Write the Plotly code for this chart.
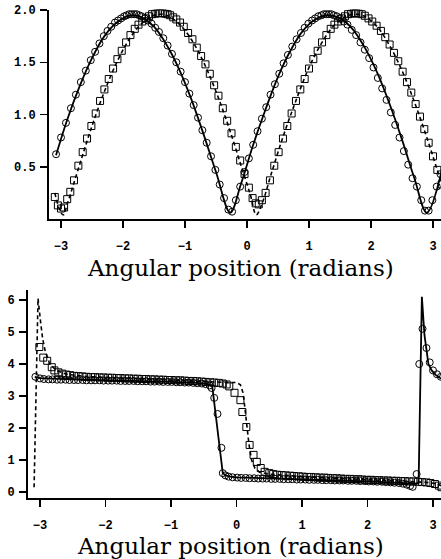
import plotly.graph_objects as go

# ---------------- top panel ----------------
top_circ_x = [-3.08, -3.00, -2.92, -2.84, -2.76, -2.68, -2.60, -2.52, -2.45, -2.38, -2.31, -2.25,
              -2.19, -2.13, -2.08, -2.03, -1.98, -1.94, -1.90, -1.86, -1.82, -1.78, -1.74, -1.70,
              -1.65, -1.60, -1.54, -1.48, -1.42, -1.35, -1.28, -1.21, -1.14, -1.07, -1.00, -0.93,
              -0.86, -0.79, -0.72, -0.65, -0.58, -0.51, -0.44, -0.37, -0.30, -0.24, -0.18, -0.11,
              -0.04, 0.03, 0.10, 0.17, 0.24, 0.31, 0.38, 0.45, 0.52, 0.59, 0.66, 0.73, 0.80, 0.87,
              0.93, 0.99, 1.05, 1.10, 1.15, 1.20, 1.24, 1.28, 1.32, 1.36, 1.40, 1.45, 1.50, 1.56,
              1.62, 1.69, 1.76, 1.83, 1.90, 1.97, 2.04, 2.11, 2.18, 2.25, 2.32, 2.39, 2.46, 2.53,
              2.60, 2.67, 2.74, 2.81, 2.87, 2.93, 2.99, 3.06, 3.12]
top_circ_y = [0.62, 0.78, 0.92, 1.06, 1.19, 1.31, 1.42, 1.52, 1.60, 1.68, 1.75, 1.80,
              1.84, 1.88, 1.90, 1.92, 1.94, 1.95, 1.96, 1.96, 1.96, 1.96, 1.95, 1.94,
              1.92, 1.90, 1.87, 1.83, 1.79, 1.73, 1.66, 1.58, 1.50, 1.41, 1.31, 1.20,
              1.09, 0.97, 0.85, 0.73, 0.60, 0.47, 0.33, 0.20, 0.09, 0.07, 0.18, 0.31,
              0.45, 0.58, 0.71, 0.84, 0.96, 1.07, 1.19, 1.29, 1.39, 1.49, 1.57, 1.65, 1.72, 1.78,
              1.83, 1.87, 1.90, 1.92, 1.94, 1.95, 1.96, 1.96, 1.96, 1.96, 1.95, 1.94, 1.92, 1.89,
              1.86, 1.81, 1.76, 1.69, 1.62, 1.54, 1.45, 1.35, 1.25, 1.14, 1.02, 0.90, 0.78, 0.65,
              0.52, 0.39, 0.31, 0.18, 0.08, 0.08, 0.18, 0.31, 0.43]

top_solid_x = [-3.08, -2.9, -2.7, -2.5, -2.3, -2.1, -1.9, -1.8, -1.7, -1.5, -1.3, -1.1, -0.9,
               -0.7, -0.5, -0.27, -0.1, 0.1, 0.3, 0.5, 0.7, 0.9, 1.1, 1.3, 1.5, 1.7, 1.9, 2.1,
               2.3, 2.5, 2.7, 2.9, 3.14]
top_solid_y = [0.61, 0.95, 1.27, 1.54, 1.75, 1.88, 1.946, 1.948, 1.93, 1.84, 1.67, 1.44, 1.15,
               0.81, 0.45, 0.06, 0.33, 0.71, 1.05, 1.36, 1.61, 1.80, 1.91, 1.95, 1.92, 1.82, 1.64,
               1.40, 1.10, 0.76, 0.39, 0.06, 0.46]

top_sq_x = [-3.10, -3.05, -3.00, -2.95, -2.90, -2.85, -2.79, -2.72, -2.65, -2.58, -2.51, -2.44,
            -2.37, -2.30, -2.23, -2.16, -2.09, -2.02, -1.95, -1.88, -1.81, -1.75, -1.69, -1.63,
            -1.58, -1.53, -1.48, -1.44, -1.40, -1.36, -1.32, -1.28, -1.24, -1.19, -1.14, -1.08,
            -1.02, -0.95, -0.88, -0.81, -0.74, -0.67, -0.60, -0.53, -0.46, -0.39, -0.32, -0.25,
            -0.18, -0.11, -0.04, 0.03, 0.09, 0.14, 0.19, 0.24, 0.30, 0.37, 0.44, 0.51, 0.58, 0.65,
            0.72, 0.79, 0.86, 0.93, 1.00, 1.07, 1.14, 1.21, 1.28, 1.35, 1.41, 1.47, 1.53, 1.58,
            1.63, 1.68, 1.72, 1.76, 1.80, 1.85, 1.90, 1.96, 2.02, 2.09, 2.16, 2.23, 2.30, 2.37,
            2.44, 2.51, 2.58, 2.65, 2.72, 2.79, 2.86, 2.93, 3.00, 3.07, 3.14]
top_sq_y = [0.21, 0.13, 0.10, 0.11, 0.19, 0.26, 0.37, 0.51, 0.64, 0.77, 0.89, 1.01,
            1.13, 1.24, 1.34, 1.44, 1.53, 1.61, 1.69, 1.76, 1.82, 1.86, 1.89, 1.92,
            1.94, 1.96, 1.965, 1.97, 1.97, 1.97, 1.965, 1.96, 1.95, 1.93, 1.91, 1.88,
            1.84, 1.78, 1.72, 1.64, 1.56, 1.48, 1.39, 1.28, 1.18, 1.06, 0.94, 0.82,
            0.69, 0.56, 0.43, 0.30, 0.20, 0.15, 0.14, 0.18, 0.25, 0.37, 0.51, 0.64, 0.77, 0.89,
            1.01, 1.13, 1.24, 1.34, 1.44, 1.53, 1.61, 1.69, 1.76, 1.82, 1.86, 1.89, 1.92, 1.94,
            1.96, 1.965, 1.97, 1.97, 1.966, 1.96, 1.945, 1.92, 1.89, 1.85, 1.80, 1.74, 1.67, 1.59,
            1.51, 1.41, 1.31, 1.21, 1.10, 0.98, 0.86, 0.73, 0.60, 0.47, 0.33]

top_dash_x = [-3.10, -3.0, -2.96, -2.9, -2.7, -2.5, -2.3, -2.1, -1.9, -1.7, -1.5, -1.4, -1.3,
              -1.1, -0.9, -0.7, -0.5, -0.3, -0.1, 0.05, 0.15, 0.25, 0.4, 0.6, 0.8, 1.0, 1.2,
              1.4, 1.6, 1.75, 1.9, 2.1, 2.3, 2.5, 2.7, 2.9, 3.1, 3.14]
top_dash_y = [0.25, 0.06, 0.04, 0.14, 0.52, 0.89, 1.22, 1.50, 1.72, 1.87, 1.95, 1.96, 1.95,
              1.87, 1.72, 1.50, 1.22, 0.89, 0.52, 0.24, 0.04, 0.16, 0.45, 0.82, 1.15, 1.45, 1.68,
              1.85, 1.94, 1.96, 1.94, 1.84, 1.66, 1.42, 1.12, 0.78, 0.41, 0.33]

# ---------------- bottom panel ----------------
bot_circ_x = [-3.07, -3.00, -2.94, -2.87, -2.81, -2.74, -2.68, -2.61, -2.55, -2.48, -2.42, -2.35,
              -2.29, -2.22, -2.16, -2.09, -2.03, -1.96, -1.90, -1.83, -1.77, -1.70, -1.64, -1.57,
              -1.51, -1.44, -1.38, -1.31, -1.25, -1.18, -1.12, -1.05, -0.99, -0.92, -0.86, -0.79,
              -0.73, -0.66, -0.60, -0.53, -0.47, -0.41,
              -0.38, -0.34, -0.29, -0.23, -0.21, -0.17,
              -0.12, -0.06, 0.01, 0.07, 0.14, 0.20, 0.27, 0.33, 0.40, 0.46, 0.53, 0.59, 0.66,
              0.72, 0.79, 0.85, 0.92, 0.98, 1.05, 1.11, 1.18, 1.24, 1.31, 1.37, 1.44, 1.50, 1.57,
              1.63, 1.70, 1.76, 1.83, 1.89, 1.96, 2.02, 2.09, 2.15, 2.22, 2.28, 2.35, 2.41, 2.48,
              2.54, 2.60, 2.65, 2.69,
              2.75, 2.79, 2.84, 2.90, 2.95, 3.00, 3.06, 3.12]
bot_circ_y = [3.60, 3.55, 3.53, 3.52, 3.52, 3.51, 3.51, 3.51, 3.50, 3.50, 3.50, 3.50,
              3.49, 3.49, 3.49, 3.49, 3.48, 3.48, 3.48, 3.48, 3.47, 3.47, 3.47, 3.47,
              3.46, 3.46, 3.46, 3.45, 3.45, 3.45, 3.44, 3.44, 3.44, 3.43, 3.43, 3.42,
              3.42, 3.41, 3.40, 3.39, 3.37, 3.33,
              3.25, 2.94, 2.44, 1.38, 0.59, 0.52,
              0.48, 0.46, 0.45, 0.44, 0.44, 0.43, 0.43, 0.42, 0.42, 0.42, 0.41, 0.41, 0.41,
              0.40, 0.40, 0.40, 0.39, 0.39, 0.39, 0.38, 0.38, 0.38, 0.37, 0.37, 0.37, 0.36, 0.36,
              0.36, 0.35, 0.35, 0.35, 0.34, 0.34, 0.33, 0.33, 0.32, 0.32, 0.31, 0.30, 0.29, 0.28,
              0.26, 0.23, 0.19, 0.16,
              0.56, 4.00, 5.10, 4.50, 4.05, 3.80, 3.68, 3.60]

bot_solid_x = [-3.08, -3.0, -2.5, -2.0, -1.5, -1.0, -0.6, -0.45, -0.37, -0.21, -0.17, -0.1, 0.0,
               0.5, 1.0, 1.5, 2.0, 2.5, 2.7, 2.78, 2.83, 2.87, 2.90, 2.93, 2.98, 3.04, 3.11, 3.14]
bot_solid_y = [3.60, 3.56, 3.52, 3.50, 3.47, 3.44, 3.41, 3.38, 3.30, 0.60, 0.52, 0.48, 0.46,
               0.42, 0.39, 0.36, 0.33, 0.29, 0.26, 0.28, 6.10, 4.90, 4.40, 4.00, 3.80, 3.66, 3.56,
               3.53]

bot_sq_x = [-3.01, -2.95, -2.89, -2.82, -2.78, -2.72, -2.66, -2.60, -2.54, -2.48, -2.41, -2.35,
            -2.29, -2.22, -2.16, -2.09, -2.03, -1.96, -1.90, -1.83, -1.77, -1.70, -1.64, -1.57,
            -1.51, -1.44, -1.38, -1.31, -1.25, -1.18, -1.12, -1.05, -0.99, -0.92, -0.86, -0.79,
            -0.73, -0.66, -0.60, -0.53, -0.47, -0.40, -0.34, -0.27, -0.21, -0.15,
            -0.11, -0.03, 0.06, 0.09, 0.15, 0.20, 0.26, 0.31, 0.37, 0.43, 0.50,
            0.56, 0.62, 0.69, 0.75, 0.82, 0.88, 0.95, 1.01, 1.08, 1.14, 1.21, 1.27, 1.34, 1.40,
            1.47, 1.53, 1.60, 1.66, 1.73, 1.79, 1.86, 1.92, 1.99, 2.05, 2.12, 2.18, 2.25, 2.31,
            2.38, 2.44, 2.51, 2.57, 2.64, 2.70, 2.77, 2.83, 2.90, 2.96, 3.03, 3.09, 3.13]
bot_sq_y = [4.53, 4.20, 4.10, 3.90, 3.80, 3.74, 3.70, 3.67, 3.65, 3.63, 3.62, 3.61,
            3.60, 3.59, 3.59, 3.58, 3.58, 3.57, 3.57, 3.56, 3.56, 3.55, 3.55, 3.54,
            3.54, 3.53, 3.53, 3.52, 3.52, 3.51, 3.51, 3.50, 3.50, 3.49, 3.49, 3.48,
            3.47, 3.47, 3.46, 3.45, 3.44, 3.43, 3.42, 3.41, 3.39, 3.36,
            3.30, 3.10, 2.87, 2.50, 2.03, 1.47, 1.16, 0.94, 0.75, 0.63, 0.59,
            0.56, 0.54, 0.53, 0.52, 0.51, 0.50, 0.49, 0.48, 0.47, 0.47, 0.46, 0.45, 0.45, 0.44,
            0.43, 0.43, 0.42, 0.41, 0.41, 0.40, 0.40, 0.39, 0.38, 0.38, 0.37, 0.37, 0.36, 0.36,
            0.35, 0.35, 0.34, 0.34, 0.33, 0.33, 0.32, 0.31, 0.30, 0.28, 0.25, 0.20, 0.15]

bot_dash_x = [-3.09, -3.03, -2.99, -2.96, -2.92, -2.85, -2.75, -2.6, -2.3, -2.0, -1.5, -1.0,
              -0.5, -0.2, 0.0, 0.06, 0.10, 0.13, 0.16, 0.19, 0.23, 0.28, 0.35, 0.5, 1.0, 1.5,
              2.0, 2.5, 2.9, 3.05, 3.14]
bot_dash_y = [0.15, 6.05, 5.30, 4.80, 4.40, 4.00, 3.80, 3.68, 3.61, 3.58, 3.54, 3.50,
              3.45, 3.43, 3.42, 3.35, 3.10, 2.60, 2.00, 1.50, 1.00, 0.75, 0.62, 0.56, 0.48, 0.43,
              0.38, 0.34, 0.30, 0.26, 0.18]

x_ticks = [-3, -2, -1, 0, 1, 2, 3]
top_y_ticks = [0.5, 1.0, 1.5, 2.0]
top_y_labels = ["0.5", "1.0", "1.5", "2.0"]
bot_y_ticks = [0, 1, 2, 3, 4, 5, 6]
axis_title = "Angular position (radians)"

W, H = 441, 559
BLACK = "#000000"

circ = dict(symbol="circle-open", size=7, color=BLACK, line=dict(width=1, color=BLACK))
sq = dict(symbol="square-open", size=7, color=BLACK, line=dict(width=1, color=BLACK))

fig = go.Figure()
# top
fig.add_trace(go.Scatter(x=top_solid_x, y=top_solid_y, mode="lines", line=dict(color=BLACK, width=1.8),
                         line_shape="spline", xaxis="x", yaxis="y"))
fig.add_trace(go.Scatter(x=top_dash_x, y=top_dash_y, mode="lines",
                         line=dict(color=BLACK, width=1.6, dash="4px,3px"), line_shape="spline",
                         xaxis="x", yaxis="y"))
fig.add_trace(go.Scatter(x=top_circ_x, y=top_circ_y, mode="markers", marker=circ, xaxis="x", yaxis="y"))
fig.add_trace(go.Scatter(x=top_sq_x, y=top_sq_y, mode="markers", marker=sq, xaxis="x", yaxis="y"))
# bottom
fig.add_trace(go.Scatter(x=bot_solid_x, y=bot_solid_y, mode="lines", line=dict(color=BLACK, width=1.8),
                         xaxis="x2", yaxis="y2"))
fig.add_trace(go.Scatter(x=bot_dash_x, y=bot_dash_y, mode="lines",
                         line=dict(color=BLACK, width=1.6, dash="4px,3px"), xaxis="x2", yaxis="y2"))
fig.add_trace(go.Scatter(x=bot_circ_x, y=bot_circ_y, mode="markers", marker=circ, xaxis="x2", yaxis="y2"))
fig.add_trace(go.Scatter(x=bot_sq_x, y=bot_sq_y, mode="markers", marker=sq, xaxis="x2", yaxis="y2"))

tickfont = dict(family="Liberation Mono", size=12, color=BLACK, weight="bold")
common = dict(showline=True, linecolor=BLACK, linewidth=2, ticks="outside", ticklen=7,
              tickwidth=1.5, tickcolor=BLACK, showgrid=False, zeroline=False,
              tickfont=tickfont, mirror=False, fixedrange=True, automargin=False,
              ticklabeloverflow="allow")


def px_x(p):
    return p / W


def px_y(p):
    return 1 - p / H


fig.update_layout(
    width=W, height=H, autosize=False,
    margin=dict(l=0, r=0, t=0, b=0, pad=0),
    paper_bgcolor="white", plot_bgcolor="white",
    showlegend=False, hovermode=False,
    xaxis=dict(domain=[px_x(49), 1.0], range=[-3.1935, 3.129], anchor="y",
               tickvals=x_ticks, ticklabelstandoff=8, **common),
    yaxis=dict(domain=[px_y(219), px_y(9.5)], range=[0.0, 2.005], anchor="x",
               tickvals=top_y_ticks, ticktext=top_y_labels, ticklabelstandoff=2, **common),
    xaxis2=dict(domain=[px_x(28), 1.0], range=[-3.183, 3.122], anchor="y2",
                tickvals=x_ticks, ticklabelstandoff=8, **common),
    yaxis2=dict(domain=[px_y(498), px_y(290)], range=[-0.1875, 6.3125], anchor="x2",
                tickvals=bot_y_ticks, ticklabelstandoff=2, **common),
    annotations=[
        dict(text=axis_title, xref="paper", yref="paper", x=px_x(240), y=px_y(268),
             xanchor="center", yanchor="middle", showarrow=False,
             font=dict(family="DejaVu Serif", size=23, color=BLACK)),
        dict(text=axis_title, xref="paper", yref="paper", x=px_x(230), y=px_y(546),
             xanchor="center", yanchor="middle", showarrow=False,
             font=dict(family="DejaVu Serif", size=23, color=BLACK)),
    ],
)

# Remove the browser's default 8 px body margin so the figure fills the window.
fig.write_html("out.html",
               config={"displayModeBar": False, "staticPlot": True},
               post_script="document.body.style.margin='0';document.body.style.overflow='hidden';")
